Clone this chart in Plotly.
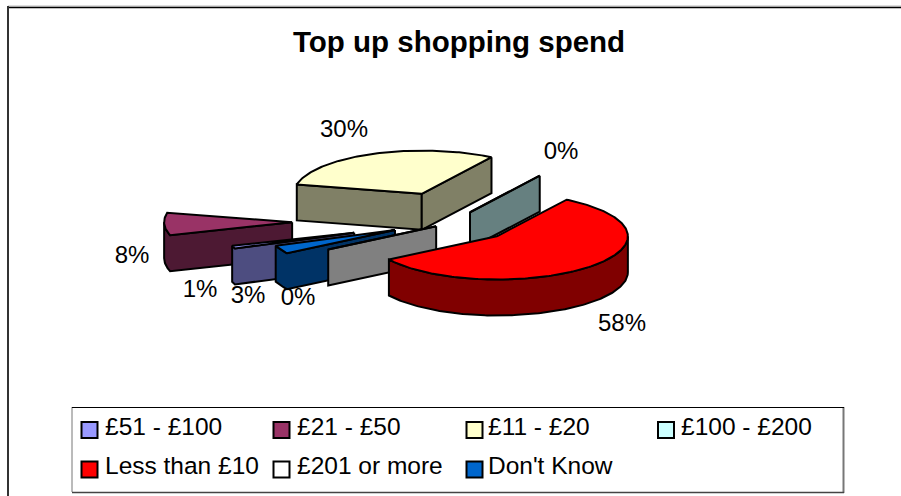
import numpy as np
import plotly.graph_objects as go

TITLE = "Top up shopping spend"
categories = ["£51 - £100", "£21 - £50", "£11 - £20", "£100 - £200",
              "Less than £10", "£201 or more", "Don't Know"]
values = [1, 8, 30, 0, 58, 0, 3]
top_colors = ["#9999FF", "#993366", "#FFFFCC", "#CCFFFF", "#FF0000", "#FFFFFF", "#0066CC"]
side_colors = ["#4D4D80", "#4D1933", "#808066", "#668080", "#800000", "#808080", "#003366"]
explode = [100, 157, 67, 42, 67, 15, 60]   # per-slice pull-out, px
drop = [1, 0, 0, 9, 0, 5, 1]               # per-slice vertical drop, px
draw_order = [2, 3, 1, 0, 6, 5, 4]
FONT = "Liberation Sans, Arial, sans-serif"

# pie projection
START = 249.6
CX, CY = 449, 218
R_RIGHT, R_LEFT, K, H = 131, 128, 0.33, 36
EK, ES = 0.40, 0.01
WARP = 2.5


def wedge(i):
    total = sum(values)
    a0 = START + 360 * sum(values[:i]) / total
    a1 = a0 + 360 * values[i] / total
    mid = np.radians((a0 + a1) / 2)
    ax = CX + explode[i] * np.sin(mid)
    ay = CY - explode[i] * (EK * np.cos(mid) + ES * np.sin(mid)) + drop[i]
    th = np.radians(np.linspace(a0, a1, max(2, int(a1 - a0) + 2)))
    th = th + np.radians(WARP) * np.cos(th)
    rx = np.where(np.sin(th) < 0, R_LEFT, R_RIGHT)
    xs = np.r_[ax, ax + rx * np.sin(th), ax]
    ys = np.r_[ay, ay - R_RIGHT * K * np.cos(th), ay]
    return xs, ys, ax, ay


fig = go.Figure()


def poly(xs, ys, color, name):
    fig.add_trace(go.Scatter(
        x=list(xs), y=list(ys), mode="lines", fill="toself", fillcolor=color,
        line=dict(color="black", width=2, shape="linear"), name=name,
        hoverinfo="name", showlegend=False))


for i in draw_order:
    xs, ys, ax, ay = wedge(i)
    # walls: edges running right-to-left on screen face the viewer
    n = len(xs) - 1
    seg = 0
    while seg < n:
        if xs[seg + 1] < xs[seg]:
            e = seg
            while e < n and xs[e + 1] < xs[e]:
                e += 1
            px, py = xs[seg:e + 1], ys[seg:e + 1]
            poly(np.r_[px, px[::-1], px[0]], np.r_[py, py[::-1] + H, py[0]],
                 side_colors[i], categories[i])
            seg = e
        else:
            seg += 1
    poly(xs, ys, top_colors[i], categories[i])

# percentage labels
label_x = [200, 132, 344, 561, 622, 298, 248]
label_y = [291, 257, 131, 153, 325, 299, 297]
fig.add_trace(go.Scatter(
    x=label_x, y=label_y, mode="text", text=[f"{v}%" for v in values],
    textposition="middle center", textfont=dict(size=24, color="black", family=FONT),
    hoverinfo="skip", showlegend=False))

# legend
swatch_x = [89.5, 281.5, 474.5, 666]
swatch_y = [430, 469.5]
text_x = [105, 297, 488, 681]
text_y = [429, 468]
for i, c in enumerate(categories):
    col = i if i < 4 else i - 4
    row = 0 if i < 4 else 1
    fig.add_trace(go.Scatter(
        x=[swatch_x[col]], y=[swatch_y[row]], mode="markers",
        marker=dict(symbol="square", size=16, color=top_colors[i], line=dict(color="black", width=2)),
        name=c, hoverinfo="name", showlegend=False))
    fig.add_trace(go.Scatter(
        x=[text_x[col]], y=[text_y[row]], mode="text", text=[c],
        textposition="middle right",
        textfont=dict(size=24.5, color="black", family=FONT),
        name=c, hoverinfo="skip", showlegend=False))

fig.update_layout(
    width=901, height=496, margin=dict(l=0, r=0, t=0, b=0),
    paper_bgcolor="white", plot_bgcolor="white", showlegend=False,
    xaxis=dict(visible=False, range=[0, 901], fixedrange=True),
    yaxis=dict(visible=False, range=[496, 0], fixedrange=True),
    shapes=[
        dict(type="line", xref="x", yref="y", x0=8, x1=901, y0=6, y1=6, line=dict(color="#BBBBBB", width=1)),
        dict(type="line", xref="x", yref="y", x0=8, x1=901, y0=7.5, y1=7.5, line=dict(color="black", width=1.5)),
        dict(type="line", xref="x", yref="y", x0=8, x1=8, y0=6, y1=496, line=dict(color="#333333", width=2)),
        dict(type="line", xref="x", yref="y", x0=72, x1=72, y0=407, y1=492, line=dict(color="#777777", width=1)),
        dict(type="line", xref="x", yref="y", x0=843.5, x1=843.5, y0=407, y1=493, line=dict(color="#777777", width=2)),
        dict(type="line", xref="x", yref="y", x0=72, x1=844, y0=492.5, y1=492.5, line=dict(color="#444444", width=1.5)),
        dict(type="line", xref="x", yref="y", x0=72, x1=844, y0=407.5, y1=407.5, line=dict(color="black", width=1)),
    ],
    annotations=[dict(text=f"<b>{TITLE}</b>", x=459, y=41, xref="x", yref="y",
                      showarrow=False, font=dict(size=29.5, color="black", family=FONT))],
)
fig.write_html("out.html", config=dict(displayModeBar=False),
               post_script="document.body.style.margin='0';document.body.style.overflow='hidden';")
